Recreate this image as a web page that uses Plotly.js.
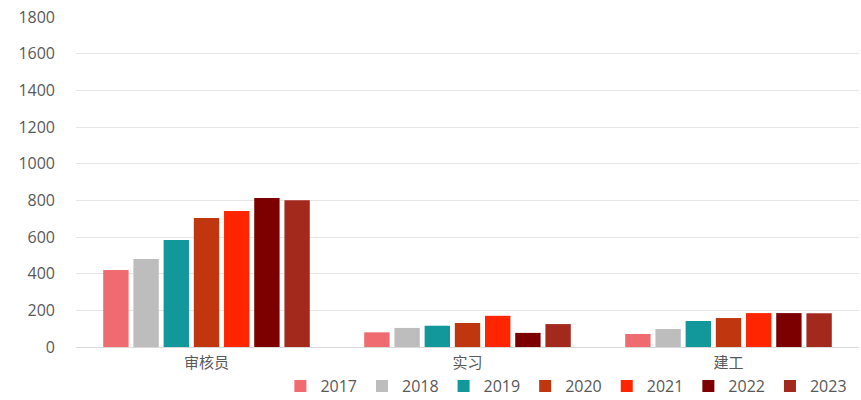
<!DOCTYPE html>
<html><head><meta charset="utf-8">
<script src="https://cdn.plot.ly/plotly-3.0.1.min.js"></script>
<style>body{margin:0;background:#fff}#c{width:861px;height:400px}</style>
</head><body><div id="c"></div>
<script>
const categories = ["审核员", "实习", "建工"];
const years = ["2017", "2018", "2019", "2020", "2021", "2022", "2023"];
const v2017 = [420, 80, 71];
const v2018 = [480, 104, 98];
const v2019 = [584, 116, 142];
const v2020 = [704, 131, 158];
const v2021 = [742, 170, 185];
const v2022 = [813, 77, 185];
const v2023 = [800, 125, 184];
const series = [v2017, v2018, v2019, v2020, v2021, v2022, v2023];
const colors = ["#f06b70", "#bdbdbd", "#12989a", "#c0360e", "#fe2500", "#7d0000", "#a3291c"];

const traces = years.map((y, i) => ({
  type: "bar", name: y, x: categories, y: series[i],
  marker: {color: colors[i]}
}));

Plotly.newPlot("c", traces, {
  width: 861, height: 400,
  margin: {l: 76, r: 2, t: 17, b: 53},
  paper_bgcolor: "#fff", plot_bgcolor: "#fff",
  barmode: "group", bargap: 0.19, bargroupgap: 0.16,
  font: {family: "Open Sans, Noto Sans CJK SC, sans-serif", color: "#595959"},
  xaxis: {tickfont: {size: 15, color: "#595959", family: "Noto Sans CJK SC, sans-serif"}, showline: false, ticks: "", ticklabelstandoff: 5},
  yaxis: {range: [0, 1800], dtick: 200, gridcolor: "#e6e6e6", zeroline: true, zerolinecolor: "#d9d9d9",
          tickfont: {size: 16, color: "#595959"}, ticklabelstandoff: 20},
  showlegend: true,
  legend: {orientation: "h", x: 0.99, xanchor: "right", xref: "container", yref: "container", y: 0.035, yanchor: "middle",
           bgcolor: "rgba(0,0,0,0)", font: {size: 16, color: "#595959"}, itemwidth: 30, traceorder: "normal", tracegroupgap: 0}
}, {displayModeBar: false});
</script></body></html>
